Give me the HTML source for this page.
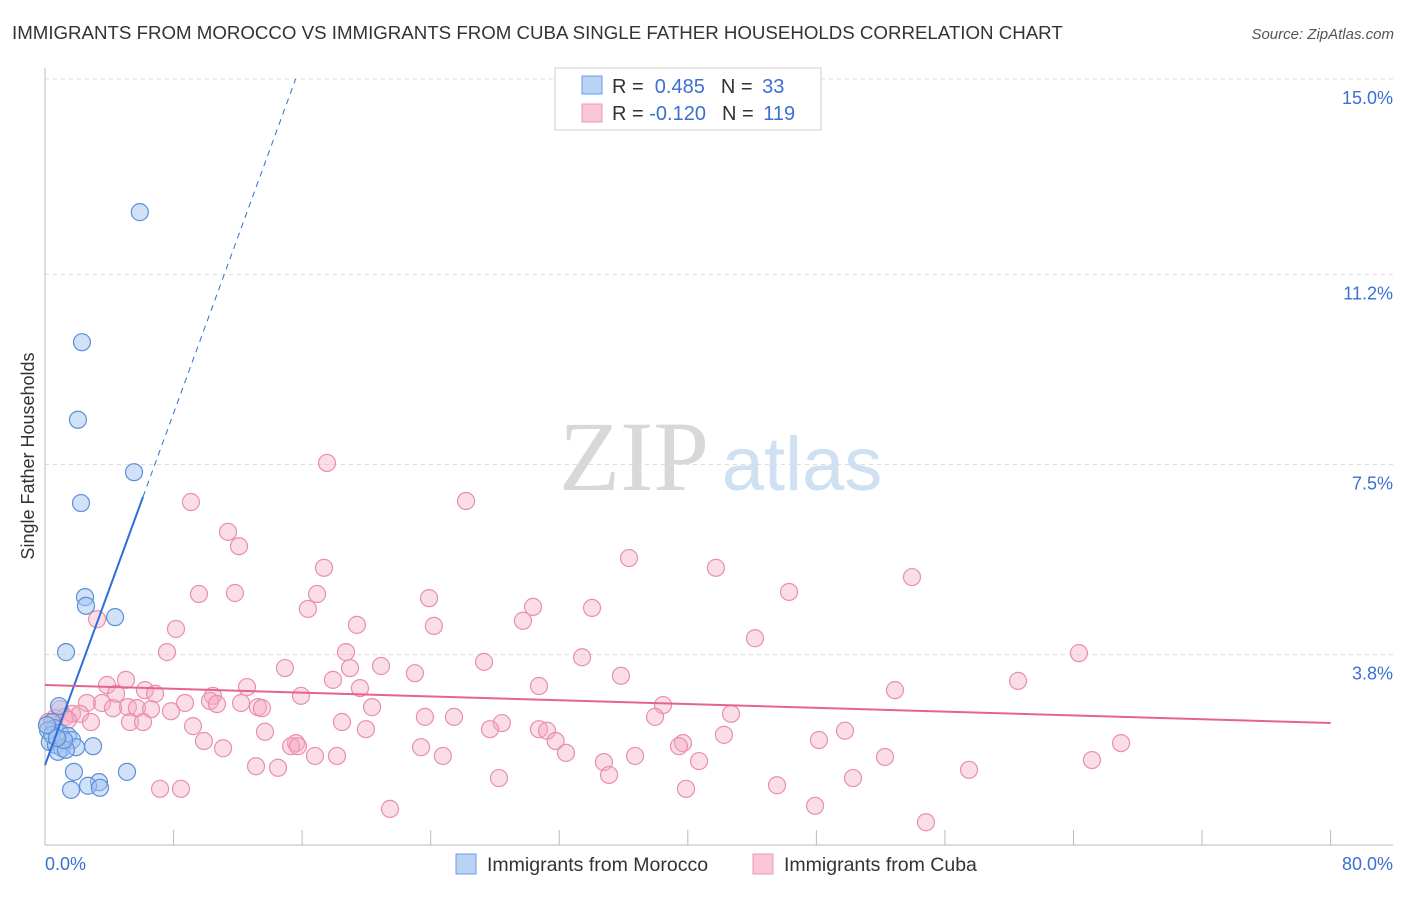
<!DOCTYPE html>
<html><head><meta charset="utf-8"><style>
body{margin:0;background:#fff;font-family:"Liberation Sans",sans-serif}
</style></head><body>
<svg width="1406" height="892" xmlns="http://www.w3.org/2000/svg" font-family="Liberation Sans, sans-serif">
<text x="12" y="39" font-size="18.7" fill="#333">IMMIGRANTS FROM MOROCCO VS IMMIGRANTS FROM CUBA SINGLE FATHER HOUSEHOLDS CORRELATION CHART</text>
<text x="1394" y="39" font-size="15" fill="#555" font-style="italic" text-anchor="end">Source: ZipAtlas.com</text>
<g><text x="634" y="490" font-size="100" font-family="Liberation Serif, serif" fill="#d8d8d8" text-anchor="middle">ZIP</text><text x="802" y="490" font-size="76" fill="#cfe0f3" text-anchor="middle">atlas</text></g>
<g id="grid"></g>
<g id="axes"></g>
<g id="pts"></g>
<g id="trend"></g>
<text transform="translate(34,456) rotate(-90)" font-size="18" fill="#333" text-anchor="middle">Single Father Households</text>
<text x="45" y="870" font-size="18" fill="#3b6fd4">0.0%</text>
<text x="1393" y="870" font-size="18" fill="#3b6fd4" text-anchor="end">80.0%</text>
<g>
<rect x="555" y="68" width="266" height="62" fill="#fff" stroke="#ccc"/>
<rect x="582" y="76" width="20" height="18" fill="#b9d3f5" stroke="#6b9be0"/>
<rect x="582" y="104" width="20" height="18" fill="#f9c6d6" stroke="#ec9ab5"/>
<text x="612" y="93" font-size="20" fill="#333">R = <tspan fill="#3b6fd4">&#160;0.485</tspan><tspan dx="16">N = </tspan><tspan fill="#3b6fd4" dx="4">33</tspan></text>
<text x="612" y="120" font-size="20" fill="#333">R = <tspan fill="#3b6fd4">-0.120</tspan><tspan dx="16">N = </tspan><tspan fill="#3b6fd4" dx="4">119</tspan></text>
</g>
<g>
<rect x="456" y="854" width="20" height="20" fill="#b9d3f5" stroke="#6b9be0"/>
<text x="487" y="871" font-size="19.5" fill="#333">Immigrants from Morocco</text>
<rect x="753" y="854" width="20" height="20" fill="#f9c6d6" stroke="#ec9ab5"/>
<text x="784" y="871" font-size="19.5" fill="#333">Immigrants from Cuba</text>
</g>
</svg>
<script>
const yTicks=[15.0,11.2,7.5,3.8];
const yTickLabels=["15.0%","11.2%","7.5%","3.8%"];
const xTicks=[0,8,16,24,32,40,48,56,64,72,80];
const moroccoX=[5.9,2.3,2.05,5.54,2.24,2.49,2.55,4.36,1.31,0.87,0.44,0.6,0.93,1.43,1.68,0.3,0.68,1.06,1.93,2.99,0.81,1.3,1.8,3.36,1.62,2.68,3.42,5.1,0.19,0.44,1.18,0.12,0.75];
const moroccoY=[12.41,9.88,8.37,7.35,6.75,4.92,4.75,4.53,3.85,2.8,2.49,2.37,2.28,2.22,2.14,2.1,2.04,1.98,2.0,2.02,1.91,1.95,1.52,1.32,1.17,1.25,1.21,1.52,2.33,2.24,2.14,2.43,2.18];
const cubaX=[17.55,26.2,9.08,11.39,12.07,36.34,41.75,17.36,53.95,46.3,9.58,11.82,16.93,23.9,16.36,34.04,30.37,3.24,29.74,19.41,24.2,8.15,44.18,7.59,18.73,64.34,33.42,27.32,14.93,18.98,20.91,23.02,35.84,60.55,5.04,17.92,3.86,6.22,12.57,19.6,30.74,52.89,6.85,4.42,10.45,15.93,10.27,2.61,3.55,8.71,12.2,10.7,5.16,4.23,5.72,6.6,7.84,13.25,13.5,20.35,38.46,0.93,1.68,2.18,1.24,2.86,5.29,6.1,23.64,25.45,37.96,42.69,18.48,28.43,9.21,19.97,27.69,30.74,31.24,49.78,13.69,42.25,9.89,48.16,66.96,31.78,15.62,15.31,15.74,23.4,39.7,39.45,11.08,32.42,16.8,18.17,24.76,36.72,52.27,34.78,40.7,65.15,13.13,14.5,57.5,35.1,28.25,50.28,45.55,7.16,8.46,39.89,47.92,21.47,54.82,0.62,0.19,1.43];
const cubaY=[7.53,6.79,6.77,6.19,5.91,5.68,5.49,5.49,5.31,5.02,4.98,5.0,4.98,4.9,4.69,4.71,4.73,4.49,4.46,4.38,4.36,4.3,4.12,3.85,3.85,3.83,3.75,3.66,3.54,3.54,3.58,3.44,3.39,3.29,3.31,3.31,3.21,3.11,3.17,3.15,3.19,3.11,3.04,3.04,3.0,3.0,2.9,2.86,2.86,2.86,2.86,2.84,2.78,2.76,2.76,2.74,2.7,2.78,2.76,2.78,2.82,2.74,2.65,2.65,2.59,2.49,2.49,2.49,2.59,2.59,2.59,2.65,2.49,2.47,2.41,2.35,2.35,2.35,2.32,2.32,2.3,2.24,2.12,2.14,2.08,2.12,2.08,2.02,2.02,2.0,2.08,2.02,1.98,1.89,1.83,1.83,1.83,1.83,1.81,1.71,1.73,1.75,1.63,1.6,1.56,1.46,1.4,1.4,1.26,1.19,1.19,1.19,0.86,0.8,0.54,2.57,2.49,2.53];
const moroccoTrend=[1.65,0.856];
const cubaTrend=[3.21,-0.00925];
const NS="http://www.w3.org/2000/svg";
const sx=v=>45+v*16.07, sy=v=>850-v*51.4;
function mk(tag,attrs,parent){const e=document.createElementNS(NS,tag);for(const k in attrs)e.setAttribute(k,attrs[k]);document.getElementById(parent).appendChild(e);return e;}
yTicks.forEach((t,i)=>{
 const l=mk('line',{x1:45,x2:1393,y1:sy(t),y2:sy(t),stroke:'#ddd','stroke-dasharray':'4,4'},'grid');
 
 
 const tx=mk('text',{x:1393,y:sy(t)+25,'font-size':18,fill:'#3b6fd4','text-anchor':'end'},'grid');
 tx.textContent=yTickLabels[i];
 
 
});
const ya=mk('line',{x1:45,x2:45,y1:68,y2:845,stroke:'#bbb'},'axes');


const xa=mk('line',{x1:45,x2:1393,y1:845,y2:845,stroke:'#bbb'},'axes');


xTicks.forEach(t=>{
 const l=mk('line',{x1:sx(t),x2:sx(t),y1:830,y2:845,stroke:'#bbb'},'axes');
 
 
});
cubaX.forEach((x,i)=>{
 const c=mk('circle',{cx:sx(x),cy:sy(cubaY[i]),r:8.5,fill:'rgba(244,170,195,0.4)',stroke:'#e98fad','stroke-width':1.2},'pts');
 
 
});
moroccoX.forEach((x,i)=>{
 const c=mk('circle',{cx:sx(x),cy:sy(moroccoY[i]),r:8.5,fill:'rgba(164,196,240,0.5)',stroke:'#5b8fd8','stroke-width':1.2},'pts');
 
 
});
const mEnd=6.1, mDash=15.6;
const t1=mk('line',{x1:sx(0),y1:sy(moroccoTrend[0]),x2:sx(mEnd),y2:sy(moroccoTrend[0]+moroccoTrend[1]*mEnd),stroke:'#2d6fd8','stroke-width':2},'trend');


const t2=mk('line',{x1:sx(mEnd),y1:sy(moroccoTrend[0]+moroccoTrend[1]*mEnd),x2:sx(mDash),y2:sy(moroccoTrend[0]+moroccoTrend[1]*mDash),stroke:'#2d6fd8','stroke-width':1,'stroke-dasharray':'6,5'},'trend');


const t3=mk('line',{x1:sx(0),y1:sy(cubaTrend[0]),x2:sx(80),y2:sy(cubaTrend[0]+cubaTrend[1]*80),stroke:'#e4638f','stroke-width':2},'trend');


</script>
</body></html>
